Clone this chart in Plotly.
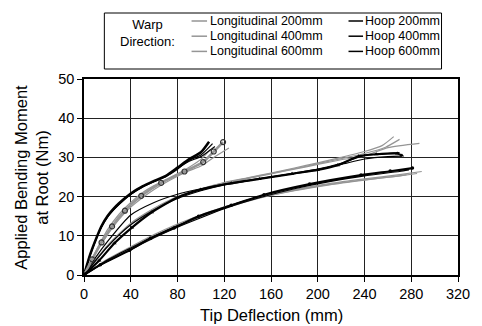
import plotly.graph_objects as go

# ---------------- data ----------------
# 200 mm group
hoopA1_x = [0, 5, 10, 15, 20, 25, 30, 40, 50, 60, 70, 80, 90, 100, 107]
hoopA1_y = [0, 5, 9, 12.5, 15, 16.8, 18.3, 20.8, 22.6, 24, 25.3, 27.4, 29.6, 31.3, 34]
hoopA2_x = [0, 5, 10, 15, 20, 25, 30, 40, 50, 60, 70, 80, 90, 100, 110]
hoopA2_y = [0, 4.8, 8.8, 12.2, 14.7, 16.5, 18, 20.5, 22.4, 23.8, 25.1, 27, 29.3, 30.6, 33.5]
hoopA3_x = [0, 5, 10, 15, 20, 25, 30, 40, 50, 60, 70, 80, 90, 100, 112]
hoopA3_y = [0, 4.9, 8.9, 12.3, 14.8, 16.6, 18.1, 20.6, 22.5, 23.9, 25.2, 27.2, 29, 30.2, 32.8]
longA1_x = [0, 7, 15, 24, 35, 49, 66, 86, 102, 111, 119]
longA1_y = [0, 4, 8.3, 12.4, 16.4, 20.2, 23.5, 26.4, 28.8, 31.5, 33.9]
longA2_x = [0, 10, 20, 30, 40, 50, 60, 70, 80, 90, 100, 110, 124]
longA2_y = [0, 5.5, 10.2, 14.2, 17.3, 19.7, 21.8, 23.6, 25.2, 26.6, 27.8, 29.8, 32.4]
longA3_x = [0, 10, 20, 30, 40, 50, 60, 70, 80, 90, 100, 108]
longA3_y = [0, 6, 11.5, 15.5, 18.5, 21, 22.8, 24.3, 25.8, 27.5, 29.5, 32]

# 400 mm group
hoopB1_x = [0, 13, 26, 41, 58, 80, 100, 126, 150, 178, 200, 217, 235, 250, 268, 272]
hoopB1_y = [0, 3.7, 8.1, 12.1, 16, 19.8, 21.8, 23.4, 24.5, 25.8, 26.8, 28, 30.3, 30.8, 31, 30.5]
hoopB2_x = [0, 10, 20, 40, 60, 80, 100, 120, 150, 180, 200, 220, 240, 260, 272]
hoopB2_y = [0, 4.5, 8.5, 15.3, 18.5, 20.6, 22, 23.2, 24.6, 25.9, 26.9, 28.2, 29.6, 30.2, 30.3]
hoopB3_x = [0, 20, 40, 60, 80, 100, 120, 140, 160, 180, 200, 220, 240, 260, 270]
hoopB3_y = [0, 7.2, 12.8, 16.6, 19.5, 21.5, 23, 24, 25, 26, 27, 28.5, 30.5, 31, 31.2]
longB1_x = [0, 20, 40, 60, 80, 100, 120, 140, 160, 180, 200, 220, 240, 255, 265]
longB1_y = [0, 7.5, 13.2, 17, 20, 22, 23.6, 24.8, 26, 27.3, 28.6, 30, 31.5, 33, 35.3]
longB2_x = [0, 20, 40, 60, 80, 100, 120, 140, 160, 180, 200, 220, 240, 258, 270]
longB2_y = [0, 7.3, 13, 16.9, 19.9, 21.9, 23.5, 24.7, 25.9, 27.1, 28.4, 29.7, 31, 32.6, 34.6]
longB3_x = [0, 20, 40, 60, 80, 100, 120, 140, 160, 180, 200, 220, 240, 260, 287]
longB3_y = [0, 7.2, 13, 16.8, 19.8, 21.8, 23.4, 24.6, 25.8, 27, 28.2, 29.4, 30.4, 32.5, 33.6]

# 600 mm group
hoopC1_x = [0, 14, 39, 57, 77, 98, 126, 154, 193, 237, 262, 281]
hoopC1_y = [0, 2.6, 6.3, 9.4, 12, 15, 17.8, 20.5, 23.2, 25.5, 26.5, 27.3]
hoopC2_x = [0, 20, 40, 60, 80, 100, 120, 150, 180, 210, 240, 270, 282]
hoopC2_y = [0, 3.8, 6.9, 9.9, 12.6, 15, 17.2, 20, 22.2, 24, 25.5, 26.7, 27.2]
hoopC3_x = [0, 20, 40, 60, 80, 100, 120, 150, 180, 210, 240, 270, 278]
hoopC3_y = [0, 3.5, 6.5, 9.5, 12.2, 14.6, 16.9, 19.7, 22, 23.8, 25.3, 26.4, 26.8]
longC1_x = [0, 20, 40, 60, 80, 100, 120, 150, 180, 210, 240, 270, 289]
longC1_y = [0, 4, 7.2, 10.3, 13, 15.3, 17.4, 19.9, 21.8, 23.3, 24.5, 25.6, 26.4]
longC2_x = [0, 20, 40, 60, 80, 100, 120, 150, 180, 210, 240, 270, 285]
longC2_y = [0, 3.7, 6.8, 9.8, 12.4, 14.8, 17, 19.6, 21.5, 23, 24.2, 25.3, 25.9]
longC3_x = [0, 20, 40, 60, 80, 100, 120, 150, 180, 210, 240, 270, 276]
longC3_y = [0, 3.9, 7, 10, 12.7, 15, 17.1, 19.7, 21.6, 23.1, 24.3, 25.3, 25.6]

x_ticks = [0, 40, 80, 120, 160, 200, 240, 280, 320]
y_ticks = [0, 10, 20, 30, 40, 50]

legend_title = ["Warp", "Direction:"]
legend_long = ["Longitudinal 200mm", "Longitudinal 400mm", "Longitudinal 600mm"]
legend_hoop = ["Hoop 200mm", "Hoop 400mm", "Hoop 600mm"]

GRAY = "#959595"
BLACK = "#000000"
FONT = "Arial, Liberation Sans, sans-serif"

fig = go.Figure()

def add(x, y, color, width, marker=None):
    if marker is None:
        fig.add_trace(go.Scatter(x=x, y=y, mode="lines", showlegend=False,
                                 line=dict(color=color, width=width, shape="spline", smoothing=0.6)))
    else:
        fig.add_trace(go.Scatter(x=x, y=y, mode="lines+markers", showlegend=False,
                                 line=dict(color=color, width=width, shape="spline", smoothing=0.6),
                                 marker=marker))

# longitudinal (gray) first so hoop lies on top
for xs, ys in [(longA2_x, longA2_y), (longA3_x, longA3_y),
               (longB1_x, longB1_y), (longB2_x, longB2_y), (longB3_x, longB3_y),
               (longC1_x, longC1_y), (longC2_x, longC2_y), (longC3_x, longC3_y)]:
    add(xs, ys, GRAY, 1.2)

for xs, ys in [(hoopA2_x, hoopA2_y), (hoopA3_x, hoopA3_y),
               (hoopB2_x, hoopB2_y), (hoopB3_x, hoopB3_y),
               (hoopC2_x, hoopC2_y), (hoopC3_x, hoopC3_y)]:
    add(xs, ys, BLACK, 1.2)

add(hoopA1_x, hoopA1_y, BLACK, 2.5)
add(longA1_x, longA1_y, GRAY, 2.5,
    marker=dict(symbol="circle-open", size=5, color="#333333", line=dict(width=1.2)))
add(hoopB1_x, hoopB1_y, BLACK, 2.2,
    marker=dict(symbol="triangle-up", size=4, color=BLACK))
add(hoopC1_x, hoopC1_y, BLACK, 2.0,
    marker=dict(symbol="circle", size=3.5, color=BLACK))

# ---------------- layout ----------------
L, R, T, B = 84, 12, 79, 51
W, H = 482, 326
PW, PH = W - L - R, H - T - B

def px(xp):
    return (xp - L) / PW

def py(yp):
    return (H - B - yp) / PH

shapes = [dict(type="rect", xref="paper", yref="paper",
               x0=px(105), x1=px(453), y0=py(69), y1=py(13),
               line=dict(color="black", width=1), fillcolor="white", layer="above")]
annotations = []
rows = [21.0, 36.2, 51.4]
for i in range(3):
    shapes.append(dict(type="line", xref="paper", yref="paper",
                       x0=px(195), x1=px(211), y0=py(rows[i]), y1=py(rows[i]),
                       line=dict(color=GRAY, width=1.5), layer="above"))
    shapes.append(dict(type="line", xref="paper", yref="paper",
                       x0=px(357), x1=px(372), y0=py(rows[i]), y1=py(rows[i]),
                       line=dict(color=BLACK, width=1.5), layer="above"))
    annotations.append(dict(xref="paper", yref="paper", x=px(212.5), y=py(rows[i]),
                            text=legend_long[i], showarrow=False, xanchor="left", yanchor="middle",
                            borderpad=0,
                            font=dict(size=12.5, color="black", family=FONT)))
    annotations.append(dict(xref="paper", yref="paper", x=px(373), y=py(rows[i]),
                            text=legend_hoop[i], showarrow=False, xanchor="left", yanchor="middle",
                            borderpad=0,
                            font=dict(size=12.5, color="black", family=FONT)))
annotations.append(dict(xref="paper", yref="paper", x=px(150), y=py(33.5),
                        text="<br>".join(legend_title), showarrow=False, xanchor="center",
                        yanchor="middle", align="center",
                        font=dict(size=13, color="black", family=FONT)))
annotations.append(dict(xref="paper", yref="paper", x=px(29), y=0.5,
                        text="Applied Bending Moment<br>at Root (Nm)", showarrow=False,
                        textangle=-90, xanchor="center", yanchor="middle", align="center",
                        font=dict(size=16.5, color="black", family=FONT)))
annotations.append(dict(xref="paper", yref="paper", x=0.5, y=py(315),
                        text="Tip Deflection (mm)", showarrow=False,
                        xanchor="center", yanchor="middle",
                        font=dict(size=16.5, color="black", family=FONT)))

axis_common = dict(showgrid=True, gridcolor="#222222", gridwidth=1,
                   showline=True, linecolor="black", linewidth=1.5, mirror=True,
                   ticks="outside", ticklen=5, tickcolor="black", zeroline=False,
                   tickfont=dict(size=14.5, color="black", family=FONT))

fig.update_layout(
    width=W, height=H,
    margin=dict(l=L, r=R, t=T, b=B),
    paper_bgcolor="white", plot_bgcolor="white",
    showlegend=False,
    xaxis=dict(range=[0, 320], tickvals=x_ticks, **axis_common),
    yaxis=dict(range=[0, 50], tickvals=y_ticks, **axis_common),
    shapes=shapes, annotations=annotations,
)

fig.write_html("out.html")
